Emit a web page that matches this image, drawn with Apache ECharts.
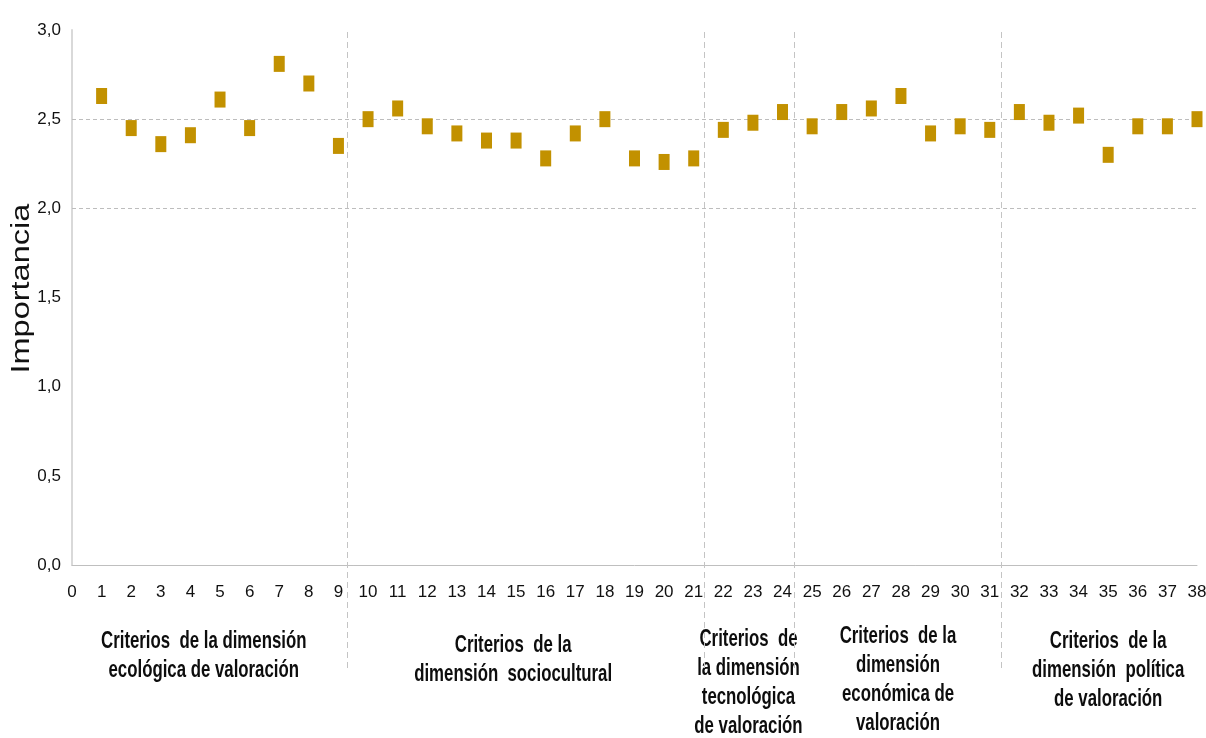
<!DOCTYPE html>
<html>
<head>
<meta charset="utf-8">
<script src="https://cdn.jsdelivr.net/npm/echarts@6/dist/echarts.min.js"></script>
<style>
html,body{margin:0;padding:0;background:#fff;}
#chart{width:1206px;height:738px;}
</style>
</head>
<body>
<div id="chart"></div>
<script>
// ---- data ----
const criterios = [1,2,3,4,5,6,7,8,9,10,11,12,13,14,15,16,17,18,19,20,21,22,23,24,25,26,27,28,29,30,31,32,33,34,35,36,37,38];
const importancia = [2.63,2.45,2.36,2.41,2.61,2.45,2.81,2.70,2.35,2.50,2.56,2.46,2.42,2.38,2.38,2.28,2.42,2.50,2.28,2.26,2.28,2.44,2.48,2.54,2.46,2.54,2.56,2.63,2.42,2.46,2.44,2.54,2.48,2.52,2.30,2.46,2.46,2.50];
const lineasGuia = [2.0, 2.5];
const separadores = [9.3, 21.35, 24.4, 31.4];
const tituloY = 'Importancia';
const grupoTextos = [
  'Criterios  de la dimensión\necológica de valoración',
  'Criterios  de la\ndimensión  sociocultural',
  'Criterios  de\nla dimensión\ntecnológica\nde valoración',
  'Criterios  de la\ndimensión\neconómica de\nvaloración',
  'Criterios  de la\ndimensión  política\nde valoración'
];
const grupoCentros = [4.45, 14.9, 22.85, 27.9, 35.0];
const grupoTops = [627, 631, 625, 622, 627];

const SANS = "'Liberation Sans',Arial,sans-serif";
const chart = echarts.init(document.getElementById('chart'), null, {renderer:'canvas'});

const option = {
  animation: false,
  backgroundColor: '#fff',
  grid: [
    {left: 72, right: 9, top: 30, bottom: 173, outerBoundsMode: 'none', containLabel: false},
    {left: 72, right: 9, top: 30, bottom: 70, outerBoundsMode: 'none', containLabel: false}
  ],
  xAxis: [
    {
      type: 'value', gridIndex: 0, min: 0, max: 38, interval: 1,
      axisLine: {show: true, lineStyle: {color: '#bfbfbf', width: 1}},
      axisTick: {show: false},
      splitLine: {show: false},
      axisLabel: {margin: 19, fontFamily: SANS, fontSize: 17, color: '#111'}
    },
    {
      type: 'value', gridIndex: 1, min: 0, max: 38, show: false
    }
  ],
  yAxis: [
    {
      type: 'value', gridIndex: 0, min: 0, max: 3, interval: 0.5,
      axisLine: {show: true, lineStyle: {color: '#d9d9d9', width: 2}},
      axisTick: {show: false},
      splitLine: {show: false},
      axisLabel: {
        margin: 11, fontFamily: SANS, fontSize: 17, color: '#111',
        formatter: v => v.toFixed(1).replace('.', ',')
      }
    },
    {
      type: 'value', gridIndex: 1, min: 0, max: 1, show: false
    }
  ],
  series: [
    {
      type: 'scatter', xAxisIndex: 0, yAxisIndex: 0,
      symbol: 'rect', symbolSize: [11, 16],
      itemStyle: {color: '#C29100', opacity: 1},
      data: criterios.map((c, i) => [c, importancia[i]]),
      markLine: {
        silent: true, symbol: 'none', label: {show: false},
        lineStyle: {color: '#bdbdbd', type: [4, 3], width: 1},
        data: lineasGuia.map(v => ({yAxis: v}))
      },
      z: 5
    },
    {
      type: 'scatter', xAxisIndex: 1, yAxisIndex: 1, data: [],
      markLine: {
        silent: true, symbol: 'none', label: {show: false},
        lineStyle: {color: '#c4c4c4', type: [6, 4], width: 1},
        data: separadores.map(v => ({xAxis: v}))
      }
    }
  ]
};
chart.setOption(option);

const graphics = grupoTextos.map((t, i) => ({
  type: 'text',
  x: chart.convertToPixel({xAxisIndex: 0}, grupoCentros[i]),
  y: grupoTops[i],
  scaleX: 0.7,
  style: {
    text: t, align: 'center', verticalAlign: 'top',
    font: "bold 24px " + SANS, lineHeight: 29, fill: '#0d0d0d'
  }
}));
graphics.push({
  type: 'text',
  x: 22, y: chart.convertToPixel({yAxisIndex: 0}, 1.55),
  rotation: Math.PI / 2,
  scaleX: 1.25,
  style: {
    text: tituloY, align: 'center', verticalAlign: 'middle',
    font: "26px " + SANS, fill: '#111'
  }
});
chart.setOption({graphic: graphics});
</script>
</body>
</html>
